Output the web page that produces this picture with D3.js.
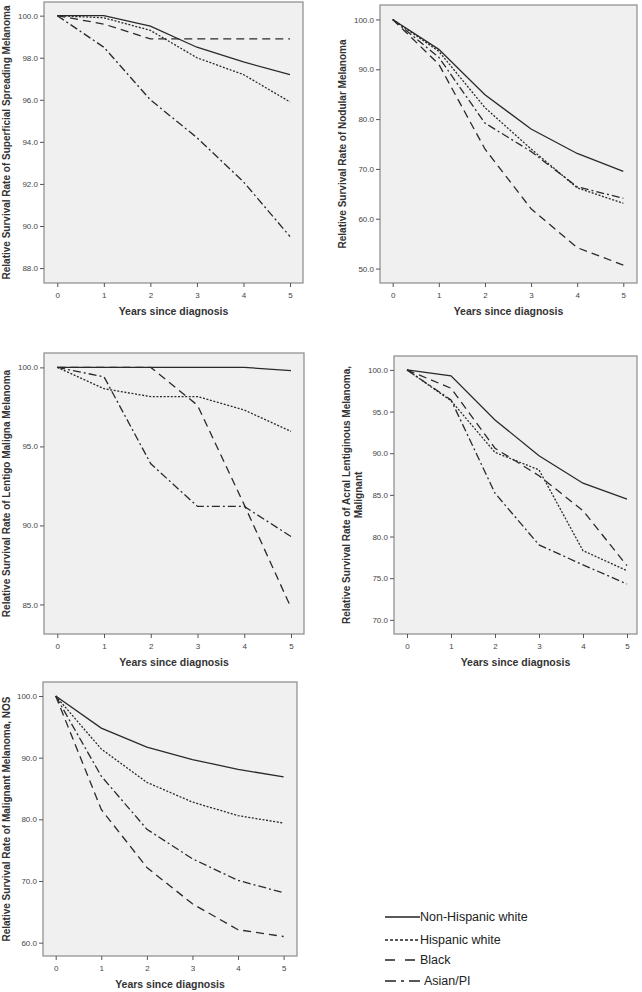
<!DOCTYPE html>
<html>
<head>
<meta charset="utf-8">
<script src="https://cdn.jsdelivr.net/npm/d3@7"></script>
<style>
  body { margin: 0; background: #fff; }
  svg text { font-family: "Liberation Sans", Arial, sans-serif; }
</style>
</head>
<body>
<div class="holder"></div>
<script>
// data
var years = [0, 1, 2, 3, 4, 5];
var groups = ["Non-Hispanic white", "Hispanic white", "Black", "Asian/PI"];

var superficial = [
  [100, 100, 99.5, 98.5, 97.8, 97.2],
  [100, 99.9, 99.3, 98.0, 97.2, 95.9],
  [100, 99.6, 98.9, 98.9, 98.9, 98.9],
  [100, 98.5, 96.0, 94.2, 92.1, 89.5]
];
var nodular = [
  [100, 94.0, 84.9, 78.0, 73.1, 69.5],
  [100, 93.6, 82.3, 74.0, 66.2, 63.1],
  [100, 91.0, 74.0, 62.0, 54.2, 50.7],
  [100, 92.4, 79.2, 73.5, 66.4, 64.1]
];
var lentigo = [
  [100, 100, 100, 100, 100, 99.8],
  [100, 98.65, 98.15, 98.15, 97.3, 95.95],
  [100, 100, 100, 97.6, 91.3, 84.8],
  [100, 99.4, 93.9, 91.2, 91.2, 89.3]
];
var acral = [
  [100, 99.3, 94.0, 89.7, 86.4, 84.5],
  [100, 96.3, 90.1, 88.0, 78.3, 75.9],
  [100, 97.8, 90.6, 87.3, 83.1, 76.5],
  [100, 96.4, 85.2, 79.0, 76.6, 74.3]
];
var nos = [
  [100, 94.8, 91.7, 89.7, 88.1, 86.9],
  [100, 91.4, 86.0, 82.8, 80.6, 79.4],
  [100, 81.6, 72.2, 66.3, 62.1, 61.0],
  [100, 87.0, 78.4, 73.6, 70.1, 68.1]
];

var ssmTicks = [88, 90, 92, 94, 96, 98, 100];
var nodTicks = [50, 60, 70, 80, 90, 100];
var lmmTicks = [85, 90, 95, 100];
var almTicks = [70, 75, 80, 85, 90, 95, 100];
var nosTicks = [60, 70, 80, 90, 100];

var xTitle = "Years since diagnosis";

// layout of the five panels
var panels = [
  { vals: superficial, ticks: ssmTicks, dom: [87.29, 100.65],
    box: [44, 2, 303, 283], pad: [13.3, 13], titleX: 6.5,
    title: ["Relative Survival Rate of Superficial Spreading Melanoma"] },
  { vals: nodular, ticks: nodTicks, dom: [47.1, 102.9],
    box: [380, 5, 637, 283], pad: [12.7, 13.7], titleX: 342.5,
    title: ["Relative Survival Rate of Nodular Melanoma"] },
  { vals: lentigo, ticks: lmmTicks, dom: [83.13, 100.91],
    box: [44, 353, 304, 634], pad: [13.3, 13], titleX: 6.7,
    title: ["Relative Survival Rate of Lentigo Maligna Melanoma"] },
  { vals: acral, ticks: almTicks, dom: [68.3, 101.67],
    box: [394, 356, 637, 634], pad: [13, 10], titleX: 346,
    title: ["Relative Survival Rate of Acral Lentiginous Melanoma,", "Malignant"] },
  { vals: nos, ticks: nosTicks, dom: [57.84, 102.27],
    box: [43, 682, 297, 956], pad: [12.7, 13.4], titleX: 6,
    title: ["Relative Survival Rate of Malignant Melanoma, NOS"] }
];

var dashes = [null, "2,1.6", "8,5", "8,3,2,3"];
var legendDashes = [null, "3,2", "10,10", "11,5,3,5"];

var svg = d3.select(".holder").append("svg")
  .attr("width", 642)
  .attr("height", 992);

panels.forEach(function(p) {
  var x0 = p.box[0], y0 = p.box[1], x1 = p.box[2], y1 = p.box[3];

  var x = d3.scaleLinear().domain([0, 5]).range([x0 + p.pad[0], x1 - p.pad[1]]);
  var y = d3.scaleLinear().domain(p.dom).range([y1, y0]);

  var g = svg.append("g");

  g.append("rect")
    .attr("x", x0).attr("y", y0)
    .attr("width", x1 - x0).attr("height", y1 - y0)
    .style("fill", "#f0f0f0")
    .style("stroke", "#8a8a8a")
    .style("stroke-width", 1.2);

  var ya = g.append("g")
    .attr("transform", "translate(" + x0 + ",0)")
    .call(d3.axisLeft(y).tickValues(p.ticks).tickFormat(d3.format(".1f")).tickSize(4).tickPadding(2));
  var xa = g.append("g")
    .attr("transform", "translate(0," + y1 + ")")
    .call(d3.axisBottom(x).tickValues(years).tickFormat(d3.format("d")).tickSize(4).tickPadding(5));

  [ya, xa].forEach(function(a) {
    a.select(".domain").remove();
    a.selectAll("line").style("stroke", "#555");
    a.selectAll("text").style("font-size", "8px").style("fill", "#444");
  });

  var line = d3.line()
    .x(function(d, i) { return x(years[i]); })
    .y(function(d) { return y(d); });

  p.vals.forEach(function(v, k) {
    g.append("path")
      .attr("d", line(v))
      .style("fill", "none")
      .style("stroke", "#2a2a2a")
      .style("stroke-width", 1.3)
      .style("stroke-dasharray", dashes[k]);
  });

  // axis titles
  g.append("text")
    .attr("x", (x0 + x1) / 2)
    .attr("y", y1 + 28)
    .attr("dy", "0.35em")
    .attr("text-anchor", "middle")
    .style("font-size", "10.5px")
    .style("font-weight", "bold")
    .style("fill", "#333")
    .text(xTitle);

  var cy = (y0 + y1) / 2;
  p.title.forEach(function(t, i) {
    g.append("text")
      .attr("transform", "translate(" + (p.titleX + i * 12.5) + "," + cy + ") rotate(-90)")
      .attr("dy", "0.35em")
      .attr("text-anchor", "middle")
      .style("font-size", "10px")
      .style("font-weight", "bold")
      .style("fill", "#333")
      .text(t);
  });
});

// legend
var leg = svg.append("g");
groups.forEach(function(name, k) {
  var ly = [917, 940, 960, 981][k];
  leg.append("line")
    .attr("x1", 385).attr("x2", 420)
    .attr("y1", ly).attr("y2", ly)
    .style("stroke", "#222")
    .style("stroke-width", 1.3)
    .style("stroke-dasharray", legendDashes[k]);
  leg.append("text")
    .attr("x", k == 3 ? 424 : 420)
    .attr("y", ly)
    .attr("dy", "0.35em")
    .style("font-size", "12.5px")
    .style("fill", "#222")
    .text(name);
});
</script>
</body>
</html>
